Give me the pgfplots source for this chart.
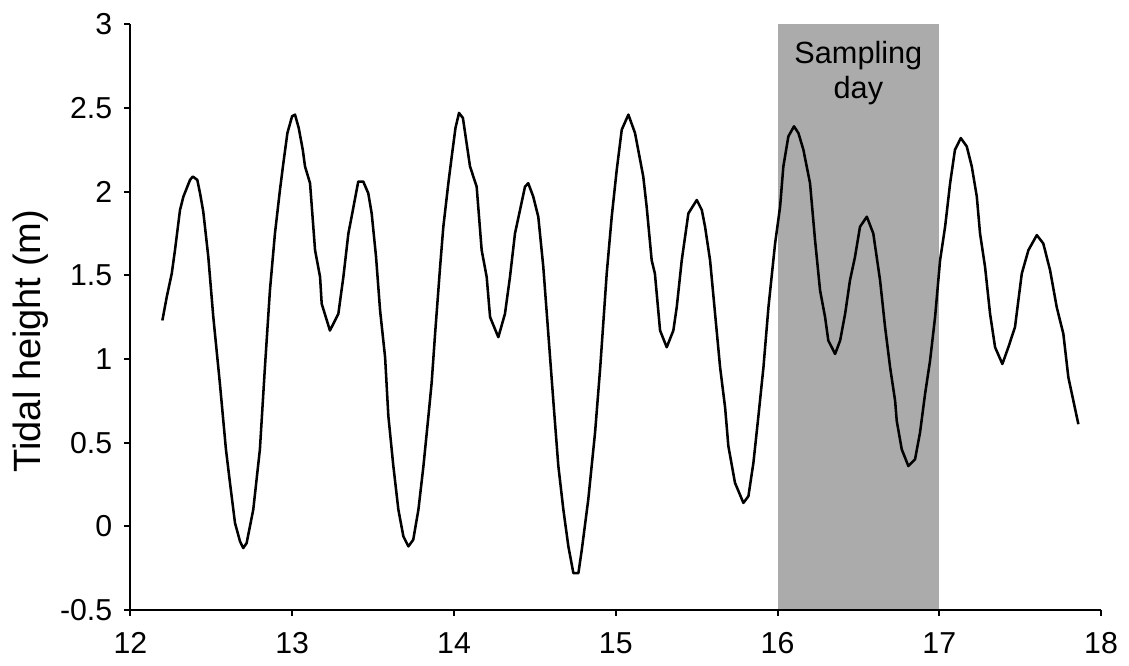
\documentclass[border=0pt]{standalone}
\usepackage{fontspec}
\setmainfont{Liberation Sans}
\usepackage{pgfplots}
\pgfplotsset{compat=1.18}
\definecolor{dayshade}{RGB}{171,171,171}

\begin{document}
\begin{tikzpicture}
% 1 px of the reference = 0.75pt
\useasboundingbox (-97.875pt,-42pt) rectangle (748.875pt,457.5pt);
\begin{axis}[
  at={(0pt,0pt)}, anchor=south west,
  scale only axis,
  width=727.9pt, height=439.3pt,
  xmin=12, xmax=18,
  ymin=-0.5, ymax=3,
  xtick={12,13,...,18},
  ytick={-0.5,0,0.5,1,1.5,2,2.5,3},
  axis x line=bottom, axis y line=left,
  axis line style={line width=1.5pt, -},
  axis on top,
  tick align=outside,
  major tick length=4.5pt,
  tick style={line width=1.5pt, black},
  /pgf/number format/assume math mode=true,
  tick label style={font=\fontsize{22.7}{27}\selectfont, inner sep=0pt},
  xticklabel style={anchor=north, yshift=-12pt},
  yticklabel style={anchor=east, xshift=-9pt},
  ylabel={Tidal height (m)},
  ylabel style={font=\fontsize{28.5}{34}\selectfont, at={(axis description cs:-0.121,0.459)}, anchor=north, inner sep=0pt},
]
% sampling day
\addplot[draw=none, fill=dayshade] coordinates {(16,-0.5) (16,3) (17,3) (17,-0.5)} -- cycle;

% tidal height
\addplot[black, line width=1.9pt, line join=round] coordinates {
(12.197,1.23) (12.224,1.37) (12.255,1.51) (12.275,1.65) (12.306,1.89)
(12.327,1.97) (12.368,2.07) (12.385,2.09) (12.413,2.07) (12.430,1.99)
(12.450,1.88) (12.481,1.61) (12.512,1.25) (12.553,0.85) (12.590,0.46)
(12.615,0.26) (12.646,0.02) (12.677,-0.09) (12.697,-0.13) (12.718,-0.10)
(12.759,0.10) (12.800,0.46) (12.831,0.95) (12.862,1.41) (12.893,1.75)
(12.924,2.01) (12.945,2.17) (12.970,2.35) (12.999,2.45) (13.017,2.46)
(13.040,2.38) (13.065,2.25) (13.079,2.15) (13.110,2.05) (13.141,1.65)
(13.172,1.49) (13.182,1.33) (13.233,1.17) (13.285,1.27) (13.316,1.49)
(13.347,1.75) (13.367,1.85) (13.408,2.06) (13.439,2.06) (13.470,1.99)
(13.491,1.87) (13.518,1.61) (13.543,1.29) (13.574,1.01) (13.594,0.66)
(13.625,0.36) (13.656,0.10) (13.687,-0.06) (13.718,-0.12) (13.748,-0.08)
(13.780,0.10) (13.811,0.36) (13.842,0.66) (13.862,0.86) (13.883,1.15)
(13.914,1.55) (13.934,1.79) (13.965,2.05) (13.986,2.21) (14.009,2.38)
(14.031,2.47) (14.055,2.44) (14.099,2.15) (14.140,2.03) (14.171,1.65)
(14.202,1.49) (14.223,1.25) (14.274,1.13) (14.315,1.27) (14.346,1.49)
(14.377,1.75) (14.408,1.89) (14.439,2.03) (14.459,2.05) (14.490,1.97)
(14.521,1.85) (14.552,1.55) (14.583,1.15) (14.614,0.75) (14.645,0.36)
(14.676,0.10) (14.707,-0.12) (14.738,-0.28) (14.769,-0.28) (14.790,-0.14)
(14.830,0.16) (14.872,0.56) (14.904,0.95) (14.944,1.51) (14.975,1.85)
(15.006,2.13) (15.037,2.37) (15.078,2.46) (15.119,2.35) (15.170,2.09)
(15.191,1.91) (15.222,1.59) (15.242,1.51) (15.274,1.17) (15.315,1.07)
(15.356,1.17) (15.377,1.31) (15.408,1.59) (15.449,1.87) (15.501,1.95)
(15.532,1.89) (15.552,1.79) (15.583,1.59) (15.614,1.27) (15.645,0.95)
(15.676,0.71) (15.696,0.48) (15.737,0.26) (15.789,0.14) (15.820,0.18)
(15.851,0.38) (15.882,0.66) (15.913,0.95) (15.944,1.31) (15.985,1.69)
(16.016,1.91) (16.036,2.15) (16.067,2.33) (16.102,2.39) (16.129,2.35)
(16.160,2.25) (16.201,2.05) (16.232,1.71) (16.263,1.41) (16.294,1.25)
(16.314,1.11) (16.356,1.03) (16.387,1.11) (16.418,1.27) (16.448,1.47)
(16.479,1.61) (16.510,1.79) (16.552,1.85) (16.592,1.75) (16.634,1.47)
(16.665,1.19) (16.696,0.95) (16.727,0.75) (16.737,0.63) (16.768,0.46)
(16.809,0.36) (16.850,0.40) (16.881,0.56) (16.912,0.79) (16.943,0.99)
(16.974,1.25) (17.005,1.59) (17.036,1.79) (17.067,2.05) (17.097,2.25)
(17.133,2.32) (17.170,2.27) (17.201,2.15) (17.232,1.97) (17.252,1.75)
(17.283,1.55) (17.314,1.27) (17.345,1.07) (17.390,0.97) (17.427,1.07)
(17.468,1.19) (17.510,1.51) (17.551,1.65) (17.603,1.74) (17.643,1.69)
(17.685,1.53) (17.726,1.31) (17.767,1.15) (17.798,0.89) (17.829,0.75)
(17.860,0.61)
};

\node[font=\fontsize{23}{26.25}\selectfont, align=center, anchor=north, inner sep=0pt]
  at (axis cs:16.5,2.90) {Sampling\\day};
\end{axis}
\end{tikzpicture}
\end{document}
